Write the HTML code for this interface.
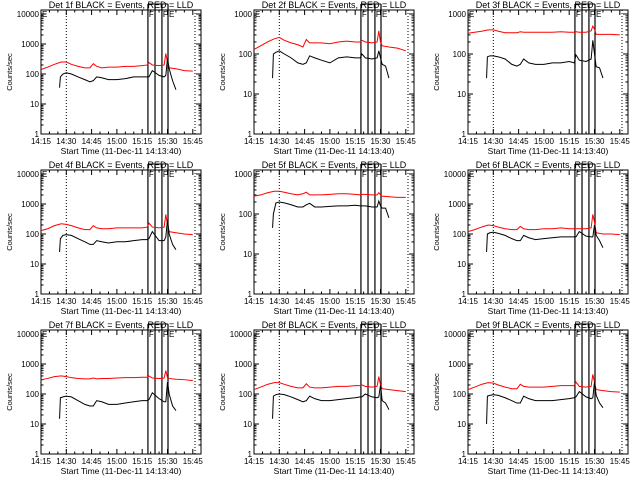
<!DOCTYPE html>
<html><head><meta charset="utf-8"><style>
html,body{margin:0;padding:0;background:#fff;}
svg{display:block;font-family:"Liberation Sans",sans-serif;}
</style></head><body>
<svg id="chart" width="640" height="480" xmlns="http://www.w3.org/2000/svg"></svg>
<script>
const redT = [0,4,8,12,15,18,22,26,29,31,33,36,40,45,50,55,60,63,64,66,70,73,74,75,76,80,85,90];
const blkT = [11,11.5,13,15,18,22,26,29,31,33,36,40,45,50,55,60,63,64,66,70,73,74,75,76,78,80];
const red1 = [140,170,210,250,250,210,180,160,160,220,180,160,170,170,180,180,190,200,240,200,190,200,480,250,160,150,130,125];
const blk1 = [35,80,100,110,100,80,65,55,60,80,75,65,65,70,80,80,80,80,130,90,80,90,330,150,60,30];
const red2 = [130,160,200,240,260,220,190,170,150,230,190,190,190,180,200,210,200,200,220,200,190,200,380,200,160,150,140,120];
const blk2 = [25,100,110,120,100,80,60,55,60,90,80,70,60,80,85,80,80,100,80,75,80,120,80,55,50,25];
const red3 = [330,350,370,400,400,370,340,340,340,360,350,350,350,350,350,360,350,350,360,350,350,380,500,420,310,310,310,300];
const blk3 = [25,85,90,90,85,75,55,50,55,75,60,55,55,60,60,65,60,95,70,65,75,220,100,48,45,25];
const red4 = [130,150,190,220,210,190,160,140,140,190,160,150,150,160,160,160,160,170,230,170,160,170,450,200,120,110,100,95];
const blk4 = [25,70,90,95,90,70,55,45,45,60,55,50,55,55,60,65,65,70,120,60,60,80,300,100,45,30];
const red5 = [280,300,340,370,370,350,320,300,320,350,300,300,300,310,320,320,310,300,310,310,300,300,340,300,280,270,260,260];
const blk5 = [45,100,190,200,190,170,150,150,170,185,150,150,155,160,160,165,160,160,160,150,150,210,160,140,140,80];
const red6 = [120,140,170,200,190,170,150,140,140,180,150,140,140,150,150,160,150,150,150,150,150,160,450,250,110,100,100,95];
const blk6 = [25,100,110,115,105,90,70,60,60,90,75,65,70,75,80,80,80,80,120,85,80,80,200,90,60,35];
const red7 = [300,330,380,400,380,350,330,320,320,340,320,330,330,340,350,350,360,360,400,340,330,340,600,350,330,310,300,280];
const blk7 = [15,75,80,85,80,60,45,40,40,60,55,45,45,50,55,60,60,65,110,70,55,55,250,100,40,28];
const red8 = [140,170,210,240,240,210,180,160,160,220,170,160,160,170,180,180,190,190,200,180,170,180,380,200,150,140,130,120];
const blk8 = [15,85,95,100,95,80,65,55,60,85,70,60,60,65,70,75,80,80,100,80,75,80,200,60,50,30];
const red9 = [140,170,210,240,230,200,170,150,150,210,180,170,170,170,180,190,190,190,250,180,170,180,450,250,140,130,120,115];
const blk9 = [10,85,90,95,90,75,60,50,50,85,70,60,60,60,65,70,75,80,120,80,70,75,250,90,50,35];
const decades = [4,3,3,4,3,4,4,4,4];
const xTickLabels = ["14:15","14:30","14:45","15:00","15:15","15:30","15:45"];
const flagTimes = [63.4,67.6,71.7,75.3];
const dottedTimes = [15,91.3];
const reds=[red1,red2,red3,red4,red5,red6,red7,red8,red9];
const blks=[blk1,blk2,blk3,blk4,blk5,blk6,blk7,blk8,blk9];
const NS="http://www.w3.org/2000/svg";
const svg=document.getElementById('chart');
function mk(tag,attrs,parent){const e=document.createElementNS(NS,tag);for(const k in attrs)e.setAttribute(k,attrs[k]);parent.appendChild(e);return e;}
const L=41,R=201,T=10,B=134,PXM=25.3/15;
for(let i=0;i<9;i++){
  const ox=[0,213,427][i%3], oy=[0,160,320][Math.floor(i/3)];
  const g=mk('g',{transform:`translate(${ox},${oy})`},svg);
  
  
  const dec=decades[i], ppd=120/dec;
  const X=t=>L+t*PXM;
  const Y=v=>B-Math.log10(v)*ppd;
  // frame
  const fr=mk('rect',{x:L,y:T,width:R-L,height:B-T,fill:'none',stroke:'#000','stroke-width':1},g);
  
  
  // y ticks
  for(let d=0;d<=dec;d++){
    const y=Y(Math.pow(10,d));
    mk('line',{x1:L,x2:L+5,y1:y,y2:y,stroke:'#000'},g);
    mk('line',{x1:R,x2:R-5,y1:y,y2:y,stroke:'#000'},g);
    const tl=mk('text',{x:L-2,y:y+3,'font-size':8,'text-anchor':'end'},g);
    tl.textContent=String(Math.pow(10,d));
    
    
    if(d<dec+1) for(let m=2;m<10;m++){const v=Math.pow(10,d)*m;const yy=Y(v);if(yy<T)break;
      mk('line',{x1:L,x2:L+2.5,y1:yy,y2:yy,stroke:'#000'},g);
      mk('line',{x1:R,x2:R-2.5,y1:yy,y2:yy,stroke:'#000'},g);}
  }
  // x ticks
  xTickLabels.forEach((lab,k)=>{
    const x=X(k*15);
    mk('line',{x1:x,x2:x,y1:B,y2:B-5,stroke:'#000'},g);
    mk('line',{x1:x,x2:x,y1:T,y2:T+5,stroke:'#000'},g);
    for(let m=1;m<3;m++){const xm=X(k*15+m*5);if(xm<R){mk('line',{x1:xm,x2:xm,y1:B,y2:B-2.5,stroke:'#000'},g);mk('line',{x1:xm,x2:xm,y1:T,y2:T+2.5,stroke:'#000'},g);}}
    const tl=mk('text',{x:x,y:B+10,'font-size':8,'text-anchor':'middle'},g);
    tl.textContent=lab;
    
    
  });
  // dotted
  dottedTimes.forEach(t=>{const l=mk('line',{x1:X(t),x2:X(t),y1:T,y2:B,stroke:'#000','stroke-dasharray':'1,2'},g);
    
    });
  // flag lines
  flagTimes.forEach(t=>{const l=mk('line',{x1:X(t),x2:X(t),y1:T-6,y2:B,stroke:'#000','stroke-width':1.2},g);
    
    });
  mk('line',{x1:X(flagTimes[0]),x2:X(flagTimes[3]),y1:T-6,y2:T-6,stroke:'#000'},g);
  const flags=[[L+1,'E'],[X(flagTimes[0])+1,'F'],[X(flagTimes[2])+1,'F'],[X(flagTimes[3])+1,'E']];
  flags.forEach(([x,c])=>{const t=mk('text',{x:x,y:T+7,'font-size':8},g);t.textContent=c;
    
    });
  // series
  const rp=mk('polyline',{points:redT.map((t,k)=>X(t)+','+Y(reds[i][k])).join(' '),fill:'none',stroke:'#ff0000','stroke-width':1},g);
  
  
  const bp=mk('polyline',{points:blkT.map((t,k)=>X(t)+','+Y(blks[i][k])).join(' '),fill:'none',stroke:'#000','stroke-width':1},g);
  
  
  // labels
  const ti=mk('text',{x:121,y:8,'font-size':9,'text-anchor':'middle'},g);
  ti.textContent=`Det ${i+1}f BLACK = Events, RED = LLD`;
  
  
  const xl=mk('text',{x:121,y:154,'font-size':8.5,'text-anchor':'middle'},g);
  xl.textContent='Start Time (11-Dec-11 14:13:40)';
  
  
  const yl=mk('text',{x:0,y:0,'font-size':7.5,'text-anchor':'middle',transform:'translate(12,72) rotate(-90)'},g);
  yl.textContent='Counts/sec';
  
  
}
</script>
</body></html>
